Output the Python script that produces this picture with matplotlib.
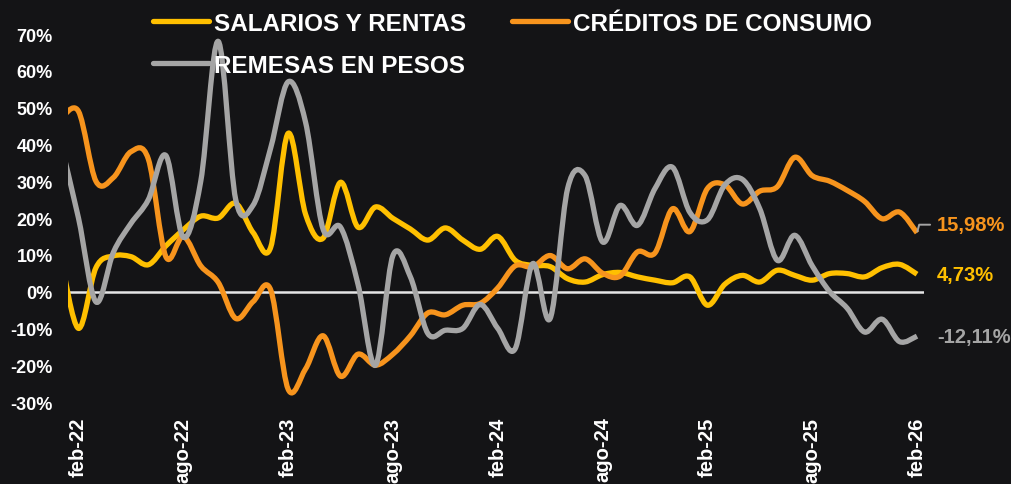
import matplotlib
matplotlib.use("Agg")
import matplotlib.pyplot as plt
from matplotlib.path import Path
from matplotlib.patches import PathPatch
from matplotlib.lines import Line2D
import numpy as np

# monthly, ene-22 .. feb-26 (variación % interanual)
months = ["ene-22", "feb-22", "mar-22", "abr-22", "may-22", "jun-22", "jul-22", "ago-22", "sep-22", "oct-22", "nov-22", "dic-22",
          "ene-23", "feb-23", "mar-23", "abr-23", "may-23", "jun-23", "jul-23", "ago-23", "sep-23", "oct-23", "nov-23", "dic-23",
          "ene-24", "feb-24", "mar-24", "abr-24", "may-24", "jun-24", "jul-24", "ago-24", "sep-24", "oct-24", "nov-24", "dic-24",
          "ene-25", "feb-25", "mar-25", "abr-25", "may-25", "jun-25", "jul-25", "ago-25", "sep-25", "oct-25", "nov-25", "dic-25",
          "ene-26", "feb-26"]

salarios = [9, -10, 6.5, 9.7, 9.5, 7.3, 12.4, 16.8, 20.5, 20, 24, 16,
            12, 43, 21, 14.5, 29.7, 17.5, 23, 19.9, 17, 14, 17.3, 14,
            11.5, 15, 8.5, 7.1, 6.8, 3.5, 2.6, 4.6, 5.2, 4, 3.1, 2.4,
            4, -3.7, 2, 4.4, 2.6, 5.8, 4.4, 3.1, 4.9, 4.9, 4, 6.5,
            7.4, 4.73]

creditos = [47, 49, 30, 31, 38, 36, 9.5, 15, 7, 2.5, -7.3, -2.7,
            0.5, -26.5, -21, -12, -23, -17, -20, -17, -12, -5.8, -6.3, -3.7,
            -3.2, 1, 7, 6.7, 9.8, 6.2, 8.9, 5, 4.2, 10.8, 10.5, 22.5,
            16.3, 28, 29, 23.8, 27.3, 28.5, 36.5, 31.5, 30, 27.5, 24.5, 19.8,
            21.6, 15.98]

remesas = [40, 20, -2.8, 10.7, 18.5, 25, 37, 14.8, 30, 68, 25, 23.5,
           39, 57, 46, 17, 17.5, 2, -20, 9.8, 4, -11.4, -10.5, -10,
           -3.5, -10, -15.5, 7.6, -7.3, 28, 31.5, 13.5, 23.4, 18, 28, 33.8,
           21.5, 19.5, 29, 30.5, 22.5, 8.5, 15.3, 7, 0, -4.5, -11, -7.5,
           -13.6, -12.11]

labels = ["SALARIOS Y RENTAS", "CRÉDITOS DE CONSUMO", "REMESAS EN PESOS"]
end_labels = ["4,73%", "15,98%", "-12,11%"]
colors = ["#FFC000", "#F7941D", "#A5A5A5"]

bg = "#141416"
plt.rcParams["font.family"] = ["Liberation Sans", "DejaVu Sans"]
plt.rcParams["font.weight"] = "bold"


def smooth_path(x, y):
    # bezier path like Excel's smoothed line
    pts = np.column_stack([x, y]).astype(float)
    n = len(pts)
    verts = [pts[0]]
    codes = [Path.MOVETO]
    for i in range(n - 1):
        p0 = pts[i - 1] if i > 0 else pts[i]
        p1 = pts[i]
        p2 = pts[i + 1]
        p3 = pts[i + 2] if i + 2 < n else pts[i + 1]
        c1 = p1 + (p2 - p0) / 6.0
        c2 = p2 - (p3 - p1) / 6.0
        verts += [c1, c2, p2]
        codes += [Path.CURVE4] * 3
    return Path(verts, codes)


fig = plt.figure(figsize=(10.12, 4.85), dpi=100, facecolor=bg)
ax = fig.add_axes([68 / 1012, 1 - 403 / 485, (924 - 68) / 1012, (403 - 35) / 485])
ax.set_facecolor(bg)

x = np.arange(len(months))
ax.axhline(0, color="#E6E6E6", lw=1.8, zorder=1)

series = [salarios, creditos, remesas]
handles = []
for vals, c, lab in zip(series, colors, labels):
    patch = PathPatch(smooth_path(x, vals), facecolor="none", edgecolor=c, lw=3.8,
                      capstyle="butt", joinstyle="round", zorder=3)
    ax.add_patch(patch)
    handles.append(Line2D([], [], color=c, lw=3.8, solid_capstyle="round", label=lab))

ax.set_xlim(0.4, 49.4)
ax.set_ylim(-30, 70)
ticks = list(range(1, len(months), 6))
ax.set_xticks(ticks)
ax.set_xticklabels([months[i] for i in ticks], rotation=90, color="white", fontsize=14.5, fontweight="bold")
ax.set_yticks(range(-30, 71, 10))
ax.set_yticklabels([f"{v}%" for v in range(-30, 71, 10)], color="white", fontsize=13, fontweight="bold")
ax.tick_params(axis="x", length=0, pad=10.5)
ax.tick_params(axis="y", length=0, pad=11)
for s in ax.spines.values():
    s.set_visible(False)

# end labels
last = len(months) - 1
offsets = [(14.5, 0), (14.5, 6), (14.5, 0)]
for vals, c, txt, off in zip(series, colors, end_labels, offsets):
    ax.annotate(txt, xy=(last, vals[-1]), xytext=off, textcoords="offset points",
                color=c, fontsize=14.5, fontweight="bold", va="center", ha="left",
                annotation_clip=False)
ax.annotate("", xy=(last, creditos[-1]), xytext=(last + 0.75, creditos[-1] + 2.2),
            arrowprops=dict(arrowstyle="-", color="#A5A5A5", lw=1.4,
                            connectionstyle="angle,angleA=180,angleB=75,rad=0",
                            shrinkA=0, shrinkB=1),
            annotation_clip=False)

leg = fig.legend([handles[0], handles[2], handles[1]], [labels[0], labels[2], labels[1]],
                 ncol=2, loc="upper left", bbox_to_anchor=(153 / 1012, 1 - 13 / 485),
                 frameon=False, labelcolor="white", handlelength=2.3, handletextpad=0.2,
                 columnspacing=1.9, labelspacing=0.78, borderpad=0, borderaxespad=0,
                 prop={"family": ["Liberation Sans", "DejaVu Sans"], "weight": "bold", "size": 17.5})

fig.savefig("out.png", dpi=100, facecolor=bg)
